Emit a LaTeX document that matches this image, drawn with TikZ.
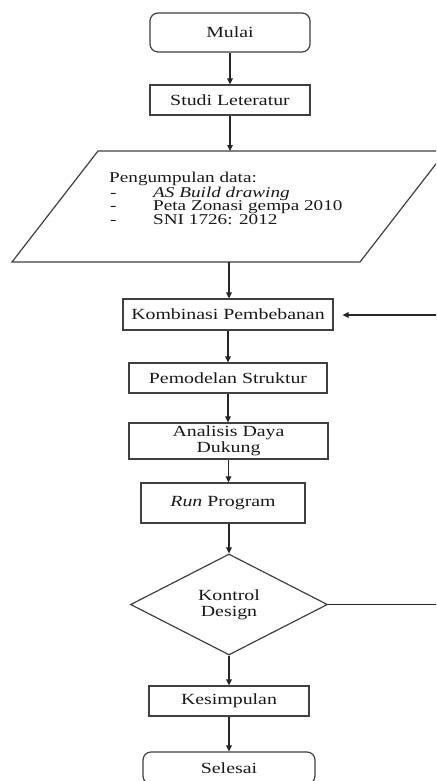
\documentclass[tikz,border=0pt]{standalone}
\usepackage{fontspec}
\setmainfont{Liberation Serif}[FakeStretch=1.28]
\usetikzlibrary{arrows.meta,shapes.geometric,calc}
\tikzset{
 flow/.style={draw=black!75, line width=1.2pt, inner sep=0pt, align=center, text=black!90, font=\fontsize{15.5}{16}\selectfont},
 term/.style={flow, rounded corners=8pt},
 arr/.style={draw=black!85, line width=1.2pt, -{Triangle[length=6pt,width=5.5pt]}},
 conn/.style={draw=black!75, line width=1.2pt, line join=miter},
 txt/.style={inner sep=0pt, text=black!90, font=\fontsize{15}{16}\selectfont, anchor=base west},
}
\begin{document}
\begin{tikzpicture}[x=1pt,y=-1pt]
\useasboundingbox (0,0) rectangle (436,781);
\fill[white] (0,0) rectangle (436,781);
\clip (0,0) rectangle (436,781);

\node[term, minimum width=160pt, minimum height=39pt] (mulai) at (230,32.5) {Mulai};
\node[flow, minimum width=160pt, minimum height=30pt] (studi) at (230,100) {Studi Leteratur};

\coordinate (pTL) at (98,151);
\coordinate (pTR) at (446,151);
\coordinate (pBR) at (360,262);
\coordinate (pBL) at (12,262);
\draw[conn] (pTL) -- (pTR) -- (pBR) -- (pBL) -- cycle;
\coordinate (pTop) at (229,151);
\coordinate (pBot) at (229,262);

\node[txt] (hd) at (109,182) {Pengumpulan data:};
\node[txt] (d1) at (110,197) {-};
\node[txt] (d2) at (110,210.5) {-};
\node[txt] (d3) at (110,224) {-};
\node[txt] (i1) at (153,197) {\textit{AS Build drawing}};
\node[txt] (i2) at (153,210.5) {Peta Zonasi gempa 2010};
\node[txt] (i3) at (153,224) {SNI 1726: 2012};

\node[flow, minimum width=210pt, minimum height=31pt] (komb) at (228,314.5) {Kombinasi Pembebanan};
\node[flow, minimum width=198pt, minimum height=30pt] (pemo) at (228,378) {Pemodelan Struktur};
\node[flow, minimum width=199pt, minimum height=36pt] (anal) at (228.5,441) {Analisis Daya\\Dukung};
\node[flow, minimum width=164pt, minimum height=40pt] (run) at (223,503) {\textit{Run} Program};
\node[flow, diamond, minimum width=197pt, minimum height=101pt] (kontrol) at (229,604.5) {Kontrol\\Design};
\node[flow, minimum width=160pt, minimum height=30pt] (kesi) at (229,701) {Kesimpulan};
\node[term, minimum width=172pt, minimum height=32pt] (sele) at (229,768) {Selesai};

\coordinate (loopA) at (452,604.5);
\coordinate (loopB) at (452,315);

\draw[arr] (mulai.south) -- (studi.north);
\draw[arr] (studi.south) -- (studi.south |- pTop);
\draw[arr] (pBot) -- (pBot |- komb.north);
\draw[arr] (komb.south) -- (pemo.north);
\draw[arr] (pemo.south) -- (pemo.south |- anal.north);
\draw[arr] (anal.south) -- (anal.south |- run.north);
\draw[arr] (run.south -| kontrol.north) -- (kontrol.north);
\draw[arr] (kontrol.south) -- (kesi.north);
\draw[arr] (kesi.south) -- (sele.north);
\draw[arr, shorten >=9pt] (kontrol.east) -- (loopA) -- (loopB) -- (komb.east |- loopB);
\end{tikzpicture}
\end{document}
